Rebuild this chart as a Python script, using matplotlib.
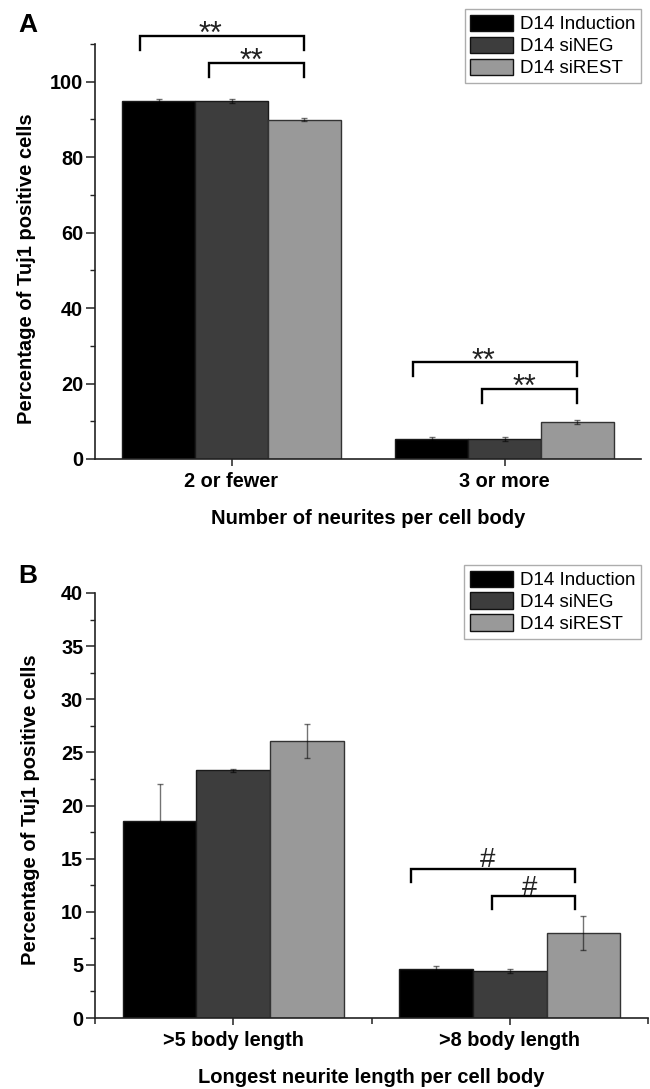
import matplotlib.pyplot as plt
from matplotlib.ticker import MultipleLocator, FixedLocator

plt.rcParams['font.family'] = ['Liberation Sans', 'DejaVu Sans']

# ---- data ----
series = ['D14 Induction', 'D14 siNEG', 'D14 siREST']
colors = ['#000000', '#3d3d3d', '#999999']

groups_a = ['2 or fewer', '3 or more']
induction_a = [94.8, 5.3]
induction_a_err = [0.5, 0.4]
sineg_a = [94.8, 5.4]
sineg_a_err = [0.5, 0.5]
sirest_a = [89.9, 9.9]
sirest_a_err = [0.4, 0.5]

groups_b = ['>5 body length', '>8 body length']
induction_b = [18.5, 4.6]
induction_b_err = [3.5, 0.3]
sineg_b = [23.3, 4.4]
sineg_b_err = [0.1, 0.2]
sirest_b = [26.1, 8.0]
sirest_b_err = [1.6, 1.6]

# significance brackets: (x_left, x_right, y_line, y_leg, label, label_x, label_center_y)
sig_a = [
    (0.666, 1.267, 112.2, 108.4, '**', 0.922, 113.5),
    (0.916, 1.267, 105.0, 101.3, '**', 1.073, 106.1),
    (1.666, 2.267, 25.7, 21.9, '**', 1.922, 26.8),
    (1.916, 2.267, 18.6, 14.9, '**', 2.073, 19.8),
]
sig_b = [
    (1.642, 2.237, 14.0, 12.8, '#', 1.92, 14.9),
    (1.935, 2.237, 11.5, 10.3, '#', 2.07, 12.3),
]

width = 0.8 / 3
# how far the glyph centre sits above the baseline, in em
glyph_mid = {'**': 0.38, '#': 0.28}


def draw_panel(ax, groups, vals, errs, ylim, major, minor, xlabel, sig, sig_size,
               xminor, ylab_x, ylab_y, leg_anchor):
    x = [1, 2]
    for i, (v, e) in enumerate(zip(vals, errs)):
        pos = [p + (i - 1) * width for p in x]
        ax.bar(pos, v, width, color=colors[i], edgecolor='#1a1a1a' if i < 2 else '#333333',
               linewidth=1.0, label=series[i], zorder=2)
        ax.errorbar(pos, v, yerr=e, fmt='none', ecolor=(0, 0, 0, 0.55), elinewidth=1.0,
                    capsize=2.5, capthick=1.0, zorder=3)
    ax.set_xlim(0.5, 2.5)
    ax.set_ylim(*ylim)
    ax.set_xticks(x)
    ax.set_xticklabels(groups, fontsize=14.3, fontweight='bold')
    if xminor:
        ax.xaxis.set_minor_locator(FixedLocator([0.5, 1.5, 2.5]))
        ax.tick_params(axis='x', which='minor', length=4.5, width=1.1, direction='out',
                       color='#222222')
    ax.yaxis.set_major_locator(MultipleLocator(major))
    ax.yaxis.set_minor_locator(MultipleLocator(minor))
    ax.tick_params(axis='y', which='major', length=6.5, width=1.1, labelsize=14.3,
                   color='#222222', pad=2)
    ax.tick_params(axis='y', which='minor', length=3.5, width=1.0, color='#222222')
    ax.tick_params(axis='x', which='major', length=5.3, width=1.1, pad=4, color='#222222')
    for lab in ax.get_yticklabels():
        lab.set_fontweight('bold')
    for s in ['top', 'right']:
        ax.spines[s].set_visible(False)
    for s in ['left', 'bottom']:
        ax.spines[s].set_linewidth(1.2)
        ax.spines[s].set_color('#222222')
    ax.set_ylabel('Percentage of Tuj1 positive cells', fontsize=14.5, fontweight='bold')
    ax.yaxis.set_label_coords(ylab_x, ylab_y)
    ax.yaxis.label.set_verticalalignment('center')
    ax.set_xlabel(xlabel, fontsize=14.5, fontweight='bold', labelpad=13)
    for x1, x2, yl, yg, txt, tx, ty in sig:
        ax.plot([x1, x1, x2, x2], [yg, yl, yl, yg], color='black', lw=1.7,
                clip_on=False, solid_joinstyle='miter', zorder=4)
        ax.annotate(txt, xy=(tx, ty), xytext=(0, -glyph_mid[txt] * sig_size),
                    textcoords='offset points', ha='center', va='baseline',
                    fontsize=sig_size, color='#222222', annotation_clip=False)
    leg = ax.legend(loc='upper right', bbox_to_anchor=leg_anchor, borderaxespad=0,
                    fontsize=13.5, frameon=True, fancybox=False, handlelength=2.3,
                    handleheight=0.95, labelspacing=0.18, handletextpad=0.35,
                    borderpad=0.3)
    leg.get_frame().set_edgecolor('#999999')
    leg.get_frame().set_linewidth(1.0)
    for h in leg.legend_handles:
        h.set_edgecolor('#111111')


fig = plt.figure(figsize=(6.5, 10.89), dpi=100)
ax_a = fig.add_axes([95 / 650, 1 - 459 / 1089, 546 / 650, 415 / 1089])
ax_b = fig.add_axes([95 / 650, 1 - 1018 / 1089, 553 / 650, 425 / 1089])

draw_panel(ax_a, groups_a, [induction_a, sineg_a, sirest_a],
           [induction_a_err, sineg_a_err, sirest_a_err], (0, 110), 20, 10,
           'Number of neurites per cell body', sig_a, 22, False,
           -0.126, 0.458, (1.0, 1.084))
draw_panel(ax_b, groups_b, [induction_b, sineg_b, sirest_b],
           [induction_b_err, sineg_b_err, sirest_b_err], (0, 40), 5, 2.5,
           'Longest neurite length per cell body', sig_b, 20, True,
           -0.1175, 0.49, (0.987, 1.066))

fig.text(28 / 650, 1 - 25 / 1089, 'A', fontsize=19, fontweight='bold', ha='center', va='center')
fig.text(28 / 650, 1 - 576 / 1089, 'B', fontsize=19, fontweight='bold', ha='center', va='center')

fig.savefig('out.png', dpi=100)
